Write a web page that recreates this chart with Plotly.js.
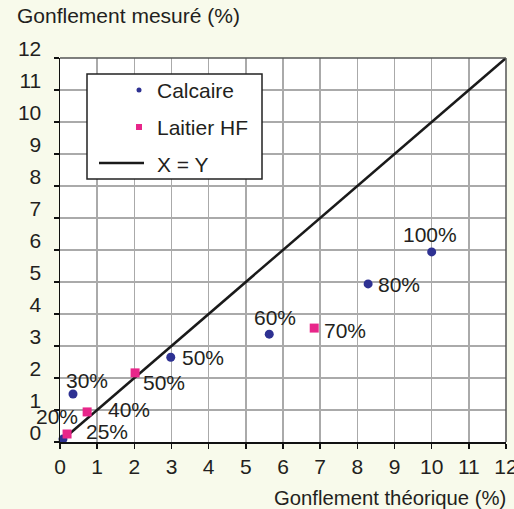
<!DOCTYPE html>
<html><head><meta charset="utf-8">
<script src="https://cdn.plot.ly/plotly-3.0.1.min.js"></script>
<style>html,body{margin:0;padding:0;background:#f8faeb;}</style>
</head><body>
<div id="chart" style="width:514px;height:509px;"></div>
<script>
// ---- data ----
const calcaireX = [-0.05, 0.08, 0.35, 2.98, 5.63, 8.29, 10.0];
const calcaireY = [0.05, 0.09, 1.5, 2.65, 3.37, 4.94, 5.94];
const calcaireLabels = ["", "20%", "30%", "50%", "60%", "80%", "100%"];

const laitierX = [0.19, 0.73, 2.02, 6.84];
const laitierY = [0.25, 0.94, 2.16, 3.56];
const laitierLabels = ["25%", "40%", "50%", "70%"];

const diagX = [0, 12];
const diagY = [0, 12];

const seriesNames = ["Calcaire", "Laitier HF", "X = Y"];
const xTitle = "Gonflement théorique (%)";
const yTitle = "Gonflement mesuré (%)";
const tickVals = [0,1,2,3,4,5,6,7,8,9,10,11,12];

// ---- label offsets (pixels) ----
const calcaireShiftX = [0, -6, 14, 32, 6, 31, -2];
const calcaireShiftY = [0, 23, 14, 0, 17, -1, 17];
const laitierShiftX = [40, 42, 29, 31];
const laitierShiftY = [3, 2, -10, -2];

// ---- styles ----
const FONT = "Liberation Sans, Arial, Helvetica, sans-serif";
const FS = 21;
const TXT = "#231f20";
const BLUE = "#2e3192";
const PINK = "#e8268a";

// plot area pixel geometry
const L = 60, R = 506, T = 58, B = 442;
const px = x => (x - L) / (R - L);
const py = y => (B - y) / (B - T);

const traces = [
  {x: diagX, y: diagY, mode: "lines", type: "scatter", name: seriesNames[2],
   line: {color: "#1a1a1a", width: 2.5}, cliponaxis: false, showlegend: false},
  {x: calcaireX, y: calcaireY, mode: "markers", type: "scatter", name: seriesNames[0],
   marker: {color: BLUE, size: 9, symbol: "circle"}, cliponaxis: false, showlegend: false},
  {x: laitierX, y: laitierY, mode: "markers", type: "scatter", name: seriesNames[1],
   marker: {color: PINK, size: 9, symbol: "square"}, cliponaxis: false, showlegend: false}
];

const annotations = [];
calcaireX.forEach((x, i) => {
  if (!calcaireLabels[i]) return;
  annotations.push({x: x, y: calcaireY[i], xref: "x", yref: "y", text: calcaireLabels[i],
    showarrow: false, xshift: calcaireShiftX[i], yshift: calcaireShiftY[i],
    font: {family: FONT, size: FS, color: TXT}});
});
laitierX.forEach((x, i) => {
  annotations.push({x: x, y: laitierY[i], xref: "x", yref: "y", text: laitierLabels[i],
    showarrow: false, xshift: laitierShiftX[i], yshift: laitierShiftY[i],
    font: {family: FONT, size: FS, color: TXT}});
});
// x-axis title
annotations.push({xref: "paper", yref: "paper", x: px(272), y: py(498), xanchor: "left", yanchor: "middle",
  text: xTitle, showarrow: false, font: {family: FONT, size: 20.3, color: TXT}});
// legend texts
const legY = [90, 127, 164];
seriesNames.forEach((n, i) => {
  annotations.push({xref: "paper", yref: "paper", x: px(155), y: py(legY[i]), xanchor: "left", yanchor: "middle",
    text: n, showarrow: false, font: {family: FONT, size: FS, color: TXT}});
});

const shapes = [
  // top and right frame
  {type: "line", xref: "paper", yref: "paper", x0: 0, x1: 1, y0: 1, y1: 1, line: {color: "#555", width: 1.5}, layer: "above"},
  {type: "line", xref: "paper", yref: "paper", x0: 1, x1: 1, y0: 0, y1: 1, line: {color: "#555", width: 1.5}, layer: "above"},
  // legend box
  {type: "rect", xref: "paper", yref: "paper", x0: px(87), x1: px(262), y0: py(179), y1: py(74),
   fillcolor: "#ffffff", line: {color: "#222", width: 1.5}, layer: "above"},
  // legend symbols
  {type: "circle", xref: "paper", yref: "paper", xsizemode: "pixel", ysizemode: "pixel",
   xanchor: px(139), yanchor: py(legY[0]), x0: -2.5, x1: 2.5, y0: -2.5, y1: 2.5,
   fillcolor: BLUE, line: {width: 0}, layer: "above"},
  {type: "rect", xref: "paper", yref: "paper", xsizemode: "pixel", ysizemode: "pixel",
   xanchor: px(139), yanchor: py(legY[1]), x0: -3, x1: 3, y0: -3, y1: 3,
   fillcolor: PINK, line: {width: 0}, layer: "above"},
  {type: "line", xref: "paper", yref: "paper", x0: px(99), x1: px(144), y0: py(163), y1: py(163),
   line: {color: "#1a1a1a", width: 2.5}, layer: "above"}
];

const axisCommon = {
  range: [0, 12], tickvals: tickVals, ticktext: tickVals.map(String),
  showgrid: true, gridcolor: "#aaaaaa", gridwidth: 1.5,
  zeroline: false, showline: true, linecolor: "#111", linewidth: 1.5,
  ticks: "outside", ticklen: 5, tickcolor: "#111", tickwidth: 1.5,
  tickfont: {family: FONT, size: FS, color: TXT}, automargin: false, fixedrange: true,
  ticklabeloverflow: "allow"
};

const layout = {
  width: 514, height: 509,
  margin: {l: L, r: 514 - R, t: T, b: 509 - B, pad: 0},
  paper_bgcolor: "#f8faeb", plot_bgcolor: "#ffffff",
  showlegend: false,
  title: {text: yTitle, x: 17 / 514, xanchor: "left", xref: "container", y: 1 - 16 / 509, yanchor: "middle", yref: "container",
          font: {family: FONT, size: FS, color: TXT}},
  xaxis: Object.assign({}, axisCommon, {ticklabelstandoff: 0}),
  yaxis: Object.assign({}, axisCommon, {ticklabelstandoff: 8, ticklabelshift: -9}),
  annotations: annotations,
  shapes: shapes
};

Plotly.newPlot("chart", traces, layout, {displayModeBar: false, staticPlot: true});
</script>
</body></html>
